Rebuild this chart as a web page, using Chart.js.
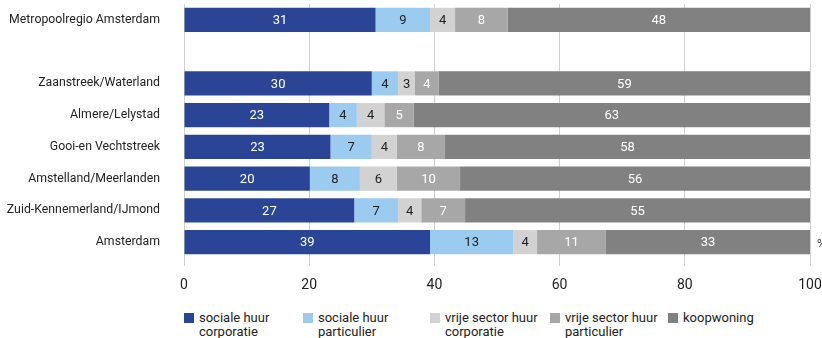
<!DOCTYPE html>
<html lang="nl">
<head>
    <meta charset="UTF-8">
    <title>Woningvoorraad naar eigendom</title>
    <script src="https://cdn.jsdelivr.net/npm/chart.js"></script>
    <style>
        body { margin: 0; background: #fff; font-family: Roboto, sans-serif; }
        .wrap { position: relative; width: 822px; height: 300px; }
        .legend { position: absolute; top: 311px; left: 0; width: 822px; height: 27px; }
        .legend div { position: absolute; top: 0; font-size: 13px; line-height: 14px; color: #222; padding-left: 15px; }
        .legend span { position: absolute; left: 0; top: 2px; width: 10px; height: 10px; }
    </style>
</head>
<body>
    <div class="wrap">
        <canvas id="chart" width="822" height="300"></canvas>
    </div>
    <div class="legend" id="legend"></div>

    <script>
        const regions = ['Metropoolregio Amsterdam', '', 'Zaanstreek/Waterland', 'Almere/Lelystad',
            'Gooi-en Vechtstreek', 'Amstelland/Meerlanden', 'Zuid-Kennemerland/IJmond', 'Amsterdam'];
        const socialeCorporatie = [30.6, null, 30.0, 23.2, 23.4, 20.1, 27.2, 39.3];
        const socialeParticulier = [8.7, null, 4.2, 4.4, 6.6, 8.0, 7.0, 13.3];
        const vrijeCorporatie = [4.0, null, 2.7, 4.4, 4.0, 5.9, 3.7, 3.8];
        const vrijeParticulier = [8.4, null, 3.8, 4.7, 7.7, 10.1, 7.0, 11.0];
        const koopwoning = [48.3, null, 59.3, 63.3, 58.3, 55.9, 55.1, 32.6];
        const xTicks = [0, 20, 40, 60, 80, 100];
        const seriesNames = [['sociale huur', 'corporatie'], ['sociale huur', 'particulier'],
            ['vrije sector huur', 'corporatie'], ['vrije sector huur', 'particulier'], ['koopwoning']];

        const colors = ['#2b4596', '#9bcbef', '#d2d2d2', '#a7a7a7', '#818181'];
        const textColors = ['#fff', '#222', '#222', '#fff', '#fff'];
        const legendX = [184, 303, 430, 550, 668];
        const allData = [socialeCorporatie, socialeParticulier, vrijeCorporatie, vrijeParticulier, koopwoning];

        // waarden in de balken
        const barLabels = {
            id: 'barLabels',
            afterDatasetsDraw(chart) {
                const ctx = chart.ctx;
                ctx.save();
                ctx.font = '13px Roboto, sans-serif';
                ctx.textAlign = 'center';
                ctx.textBaseline = 'middle';
                chart.data.datasets.forEach((ds, i) => {
                    chart.getDatasetMeta(i).data.forEach((bar, j) => {
                        if (ds.data[j] == null) return;
                        ctx.fillStyle = textColors[i];
                        ctx.fillText(Math.round(ds.data[j]), (bar.x + bar.base) / 2, bar.y + 1);
                    });
                });
                // procentteken rechts
                ctx.fillStyle = '#444';
                ctx.font = '12px Roboto, sans-serif';
                ctx.textAlign = 'left';
                const last = chart.getDatasetMeta(0).data[regions.length - 1];
                ctx.fillText('%', chart.chartArea.right + 7, last.y + 3);
                ctx.restore();
            }
        };

        const ctx = document.getElementById('chart').getContext('2d');
        new Chart(ctx, {
            type: 'bar',
            data: {
                labels: regions,
                datasets: allData.map((d, i) => ({
                    label: seriesNames[i].join(' '),
                    data: d,
                    backgroundColor: colors[i],
                    borderWidth: 0,
                    barPercentage: 0.76,
                    categoryPercentage: 1
                }))
            },
            options: {
                indexAxis: 'y',
                responsive: false,
                animation: false,
                layout: { padding: { top: 4, right: 12, left: 0, bottom: 0 } },
                plugins: { legend: { display: false }, tooltip: { enabled: false } },
                scales: {
                    x: {
                        stacked: true,
                        min: 0,
                        max: 100,
                        afterBuildTicks: s => { s.ticks = xTicks.map(v => ({ value: v })); },
                        afterFit: s => { s.height = 42; s.paddingLeft = 0; s.paddingRight = 0; },
                        grid: { color: '#cfcfcf', lineWidth: 1, tickLength: 8 },
                        border: { display: false },
                        ticks: { color: '#222', font: { size: 14, family: 'Roboto' }, padding: 11, maxRotation: 0 }
                    },
                    y: {
                        stacked: true,
                        afterFit: s => { s.width = 184; s.paddingTop = 0; s.paddingBottom = 0; },
                        grid: { display: false },
                        border: { display: false },
                        ticks: { color: '#222', font: { size: 12.3, family: 'Roboto' }, padding: 16, autoSkip: false }
                    }
                }
            },
            plugins: [barLabels]
        });

        // legenda met twee regels
        const legend = document.getElementById('legend');
        seriesNames.forEach((name, i) => {
            const item = document.createElement('div');
            item.style.left = legendX[i] + 'px';
            const box = document.createElement('span');
            box.style.background = colors[i];
            item.appendChild(box);
            name.forEach((line, k) => {
                if (k > 0) item.appendChild(document.createElement('br'));
                item.appendChild(document.createTextNode(line));
            });
            legend.appendChild(item);
        });
    </script>
</body>
</html>
